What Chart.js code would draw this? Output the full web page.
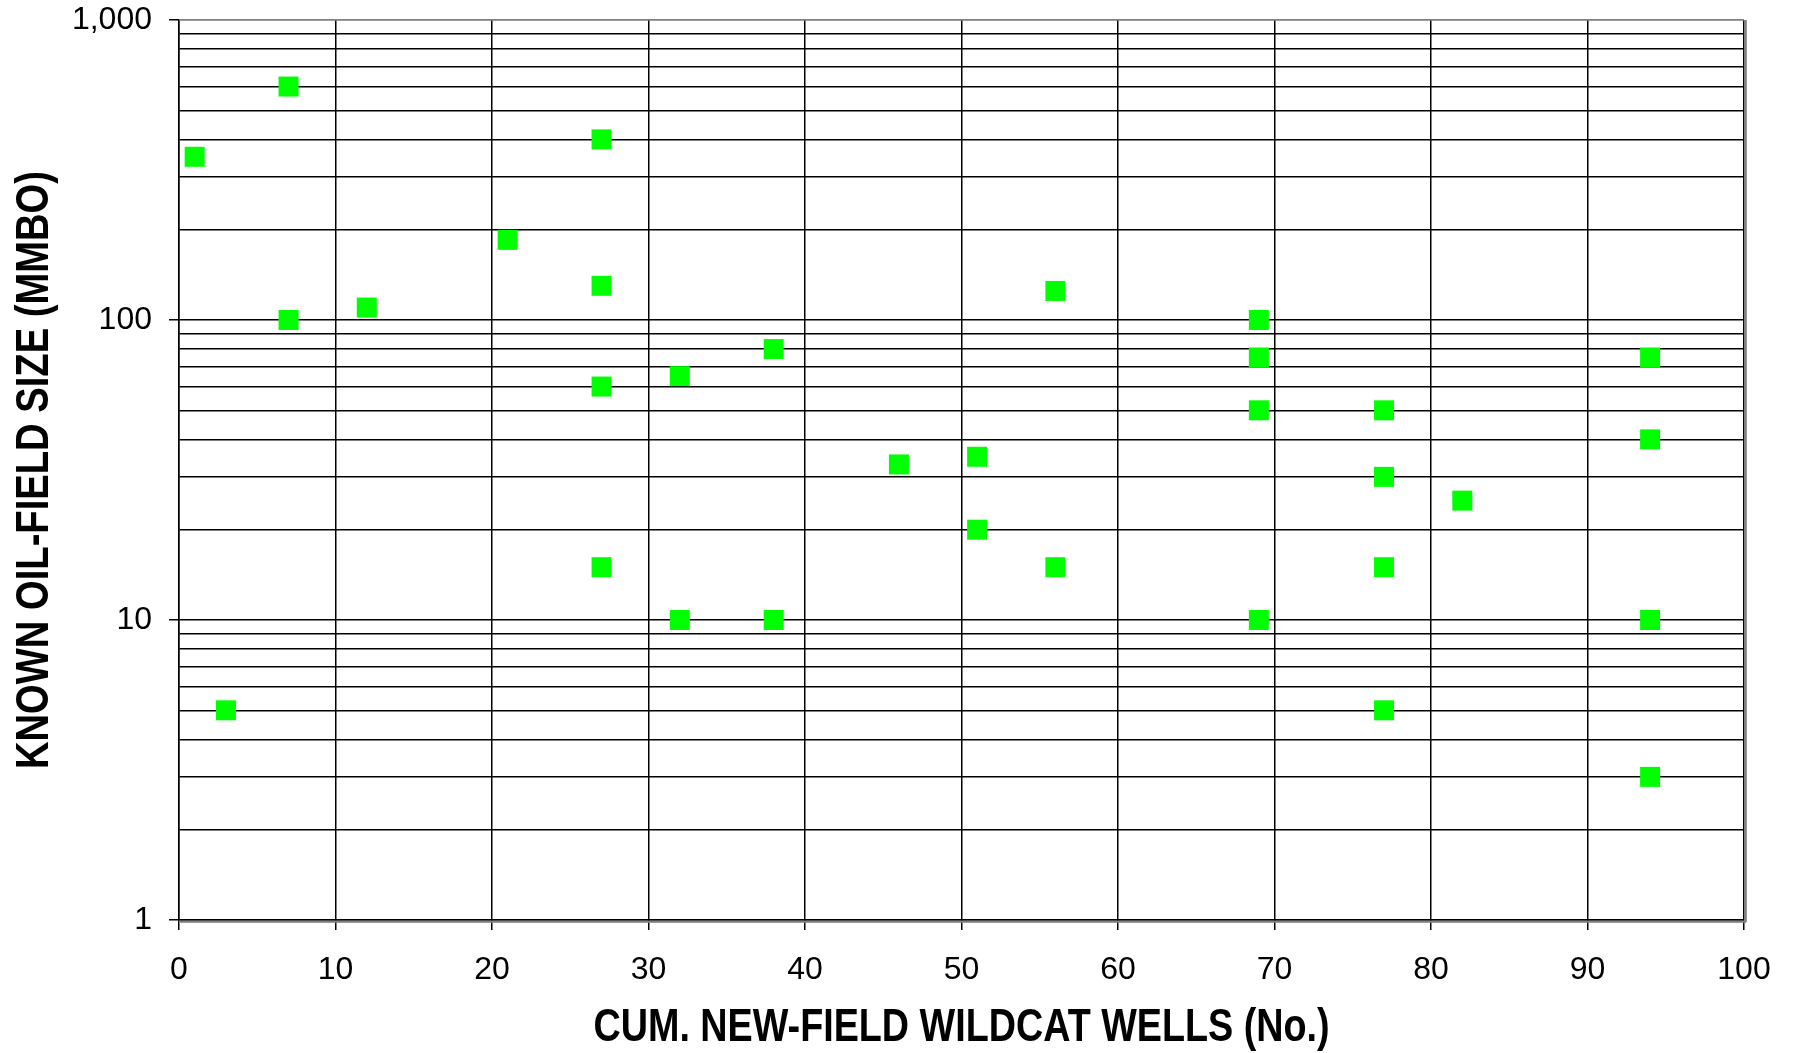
<!DOCTYPE html>
<html>
<head>
<meta charset="utf-8">
<title>Known oil-field size vs cumulative new-field wildcat wells</title>
<script src="https://cdn.jsdelivr.net/npm/chart.js@4.4.1/dist/chart.umd.min.js"></script>
<style>
    html, body { margin: 0; padding: 0; background: #ffffff; }
    #wrap { width: 1797px; height: 1053px; }
</style>
</head>
<body>
<div id="wrap"><canvas id="fieldChart" width="1797" height="1053"></canvas></div>
<script>
// Cumulative new-field wildcat wells at which each field was found
const wellsDrilled = [1, 7, 3, 7, 12, 21, 27, 27, 27, 27, 32, 32, 38, 38, 46, 51,
    51, 56, 56, 69, 69, 69, 69, 77, 77, 77, 77, 82, 94, 94, 94, 94];
// Known oil-field size (MMBO)
const fieldSize = [350, 600, 5, 100, 110, 185, 400, 130, 60, 15, 65, 10, 80, 10, 33, 35,
    20, 125, 15, 100, 75, 50, 10, 50, 30, 15, 5, 25, 75, 40, 10, 3];

const xTicks = [0, 10, 20, 30, 40, 50, 60, 70, 80, 90, 100];
// log grid lines, only decades carry a label
const yGrid = [1, 2, 3, 4, 5, 6, 7, 8, 9, 10, 20, 30, 40, 50, 60, 70, 80, 90,
    100, 200, 300, 400, 500, 600, 700, 800, 900, 1000];
const yLabels = [1, 10, 100, 1000];

const X_TITLE = 'CUM. NEW-FIELD WILDCAT WELLS (No.)';
const Y_TITLE = 'KNOWN OIL-FIELD SIZE (MMBO)';

const tickFont = { family: '"Liberation Sans", Arial, sans-serif', size: 32 };
// tiny line height so the top label does not push the plot area down
const yTickFont = { family: '"Liberation Sans", Arial, sans-serif', size: 32, lineHeight: 0.1 };

const points = wellsDrilled.map((x, i) => ({ x, y: fieldSize[i] }));

// gray frame top edge and shadow on the right / bottom, like the original plot area
const frameShadow = {
    id: 'frameShadow',
    afterDraw(chart) {
        const { ctx, chartArea: a } = chart;
        ctx.save();
        ctx.fillStyle = '#808080';
        ctx.fillRect(a.left, a.top - 1, a.right - a.left, 1.5);
        ctx.fillRect(a.right + 0.8, a.top, 2, a.bottom - a.top + 2);
        ctx.fillRect(a.left, a.bottom + 0.8, a.right - a.left + 2, 2);
        ctx.restore();
    }
};

// axis titles in a narrow bold face (no condensed font installed, so squeeze it)
const narrowTitles = {
    id: 'narrowTitles',
    afterDraw(chart) {
        const { ctx, chartArea: a, scales } = chart;
        ctx.save();
        ctx.fillStyle = '#000';
        ctx.font = 'bold 46px "Liberation Sans", Arial, sans-serif';
        ctx.textAlign = 'center';
        ctx.textBaseline = 'alphabetic';

        ctx.save();
        ctx.translate((a.left + a.right) / 2, scales.x.bottom - 12);
        ctx.scale(0.82, 1);
        ctx.fillText(X_TITLE, 0, 0);
        ctx.restore();

        ctx.save();
        ctx.translate(scales.y.left + 48, (a.top + a.bottom) / 2);
        ctx.rotate(-Math.PI / 2);
        ctx.scale(0.83, 1);
        ctx.fillText(Y_TITLE, 0, 0);
        ctx.restore();

        ctx.restore();
    }
};

new Chart(document.getElementById('fieldChart'), {
    type: 'scatter',
    data: {
        datasets: [{
            label: 'Fields',
            data: points,
            pointStyle: 'rect',
            pointRadius: 14.14,
            pointHoverRadius: 14.14,
            backgroundColor: '#00ff00',
            borderWidth: 0
        }]
    },
    options: {
        responsive: false,
        animation: false,
        layout: { padding: { top: 20, right: 53, bottom: 0, left: 0 } },
        plugins: { legend: { display: false }, tooltip: { enabled: false } },
        scales: {
            x: {
                type: 'linear',
                min: 0,
                max: 100,
                afterFit: (s) => { s.height = 133; },
                afterBuildTicks: (s) => { s.ticks = xTicks.map(v => ({ value: v })); },
                ticks: { font: tickFont, color: '#000', padding: 21, maxRotation: 0, autoSkip: false },
                grid: { color: '#000', lineWidth: 1.5, tickLength: 10, tickColor: '#000' },
                border: { color: '#000', width: 1.5 }
            },
            y: {
                type: 'logarithmic',
                min: 1,
                max: 1000,
                afterFit: (s) => { s.width = 179; },
                afterBuildTicks: (s) => {
                    s.ticks = yGrid.map(v => ({ value: v, major: yLabels.includes(v) }));
                },
                ticks: {
                    font: yTickFont,
                    color: '#000',
                    padding: 17,
                    autoSkip: false,
                    callback: (v) => yLabels.includes(v) ? v.toLocaleString('en-US') : ''
                },
                grid: {
                    color: (c) => c.tick && c.tick.value === 1000 ? '#808080' : '#000',
                    lineWidth: 1.5,
                    tickLength: 10,
                    tickColor: (c) => c.tick && yLabels.includes(c.tick.value) ? '#000' : 'rgba(0,0,0,0)'
                },
                border: { color: '#000', width: 1.5 }
            }
        }
    },
    plugins: [frameShadow, narrowTitles]
});
</script>
</body>
</html>
